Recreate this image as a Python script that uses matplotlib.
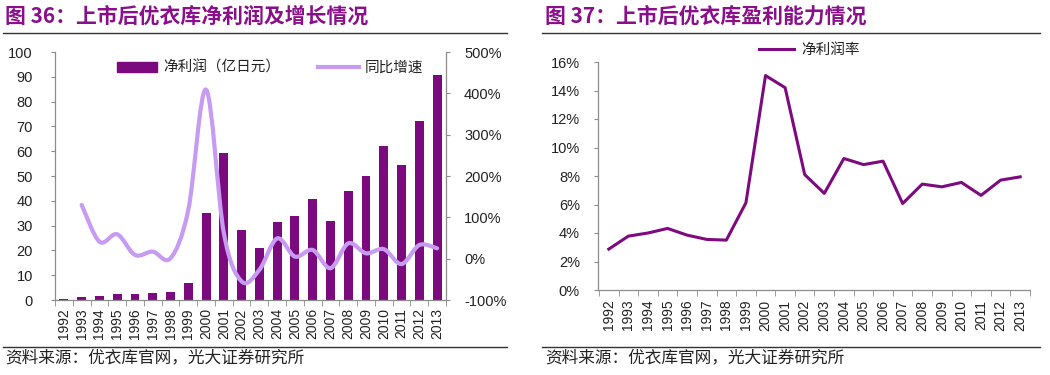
import matplotlib
matplotlib.use("Agg")
import matplotlib.pyplot as plt
from matplotlib.path import Path
from matplotlib.patches import PathPatch
from matplotlib.lines import Line2D
from matplotlib.patches import Patch
import numpy as np

years = [str(y) for y in range(1992, 2014)]
net_profit = [0.5, 1.2, 1.7, 2.4, 2.4, 2.8, 3.2, 6.8, 34.9, 59.2, 28.2, 21.0,
              31.6, 34.0, 40.7, 32.0, 43.9, 49.8, 62.0, 54.6, 72.0, 90.6]
# growth starts at 1993
growth = [130, 41, 59, 9, 17, 1, 118, 409, 62, -55, -27,
          49, 5, 21, -23, 37, 13, 23, -13, 33, 25]
margin = [2.87, 3.78, 4.0, 4.32, 3.85, 3.55, 3.5, 6.12, 15.05, 14.2, 8.1, 6.78,
          9.23, 8.8, 9.04, 6.07, 7.43, 7.24, 7.55, 6.64, 7.71, 7.94]

BAR = "#7B0A7F"
LINE_L = "#C79BF2"
LINE_R = "#7E0A80"
TITLE_C = "#8A0F8A"
SPINE = "#8C8C8C"
TXT = "#222222"
FS = 10.5

plt.rcParams['font.family'] = ['Liberation Sans', 'Noto Sans CJK SC']
CJK = ['Noto Sans CJK SC', 'DejaVu Sans']

fig = plt.figure(figsize=(10.5, 3.75), dpi=100)

def style_axis(ax):
    for s in ax.spines.values():
        s.set_color(SPINE)
        s.set_linewidth(0.9)
    ax.spines['top'].set_visible(False)
    ax.tick_params(colors=TXT, labelsize=FS, length=3, width=0.8)
    ax.tick_params(axis='both', color=SPINE)
    ax.tick_params(axis='y', pad=10)
    ax.tick_params(axis='x', labelsize=10)

# ---------- left chart ----------
axL = fig.add_axes([55/1050, 1-300/375, 391/1050, 248/375])
x = np.arange(len(years))
axL.bar(x, net_profit, width=0.5, color=BAR, zorder=2)
axL.set_ylim(0, 100)
axL.set_yticks(range(0, 101, 10))
axL.set_xlim(-0.5, len(years) - 0.5)
axL.set_xticks(x)
axL.set_xticklabels(years, rotation=90)
axL.set_xticks(np.arange(-0.5, len(years), 1), minor=True)
style_axis(axL)
axL.tick_params(axis='y', pad=13)
axL.tick_params(axis='x', which='major', length=0, pad=6)
axL.tick_params(axis='x', which='minor', length=4, color=SPINE)
axL.spines['right'].set_visible(False)

axR2 = axL.twinx()
axR2.set_ylim(-100, 500)
axR2.set_yticks(range(-100, 501, 100))
axR2.set_yticklabels([f"{v}%" for v in range(-100, 501, 100)])
style_axis(axR2)
axR2.spines['left'].set_visible(False)
axR2.spines['bottom'].set_visible(False)

# smoothed growth line (Catmull-Rom Bezier through data points)
gx = x[1:].astype(float)
gy = np.array(growth, dtype=float)
pts = np.column_stack([gx, gy])
verts = [tuple(pts[0])]
codes = [Path.MOVETO]
n = len(pts)
for i in range(n - 1):
    p0 = pts[i - 1] if i > 0 else pts[i]
    p1 = pts[i]
    p2 = pts[i + 1]
    p3 = pts[i + 2] if i + 2 < n else pts[i + 1]
    c1 = p1 + (p2 - p0) / 6.0
    c2 = p2 - (p3 - p1) / 6.0
    verts += [tuple(c1), tuple(c2), tuple(p2)]
    codes += [Path.CURVE4] * 3
axR2.add_patch(PathPatch(Path(verts, codes), facecolor='none', edgecolor=LINE_L,
                         lw=3.0, capstyle='round', joinstyle='round', zorder=3))

handles = [Patch(color=BAR), Line2D([], [], color=LINE_L, lw=3.0)]
axR2.legend(handles, ["净利润（亿日元）", "同比增速"], ncol=2, loc='upper left',
            bbox_to_anchor=(0.135, 1.0), frameon=False, prop={'family': CJK, 'size': FS},
            handlelength=2.8, handleheight=0.7, handletextpad=0.4, columnspacing=2.6,
            borderaxespad=0.2, labelcolor=TXT)

# ---------- right chart ----------
axM = fig.add_axes([598/1050, 1-290/375, 432/1050, 228/375])
axM.plot(x, margin, color=LINE_R, lw=2.2, solid_joinstyle='round')
axM.set_ylim(0, 16)
axM.set_yticks(range(0, 17, 2))
axM.set_yticklabels([f"{v}%" for v in range(0, 17, 2)])
axM.set_xlim(-0.55, len(years) - 0.5)
axM.set_xticks(x)
axM.set_xticklabels(years, rotation=90)
axM.set_xticks(np.arange(-0.5, len(years), 1), minor=True)
style_axis(axM)
axM.spines['right'].set_visible(False)
axM.tick_params(axis='x', which='major', length=0, pad=7)
axM.tick_params(axis='x', which='minor', length=4, color=SPINE)
axM.legend([Line2D([], [], color=LINE_R, lw=2.2)], ["净利润率"], loc='center left',
           bbox_to_anchor=(0.36, 1.053), frameon=False, prop={'family': CJK, 'size': FS},
           handlelength=2.4, handletextpad=0.5, borderaxespad=0, labelcolor=TXT)

# ---------- titles, rules, sources ----------
fig.text(5/1050, 1-16/375, "图 36：上市后优衣库净利润及增长情况", family=CJK, fontsize=15,
         fontweight='bold', color=TITLE_C, va='center', ha='left')
fig.text(545/1050, 1-16/375, "图 37：上市后优衣库盈利能力情况", family=CJK, fontsize=15,
         fontweight='bold', color=TITLE_C, va='center', ha='left')
for (x0, x1) in [(3, 507), (542, 1040)]:
    fig.add_artist(Line2D([x0/1050, x1/1050], [1-33/375, 1-33/375], color='#333333', lw=1.0))
    fig.add_artist(Line2D([x0/1050, x1/1050], [1-347/375, 1-347/375], color='#333333', lw=1.0))
fig.text(5/1050, 1-358/375, "资料来源：优衣库官网，光大证券研究所", family=CJK, fontsize=12,
         color=TXT, va='center', ha='left')
fig.text(545/1050, 1-358/375, "资料来源：优衣库官网，光大证券研究所", family=CJK, fontsize=12,
         color=TXT, va='center', ha='left')

fig.savefig("out.png", dpi=100)
